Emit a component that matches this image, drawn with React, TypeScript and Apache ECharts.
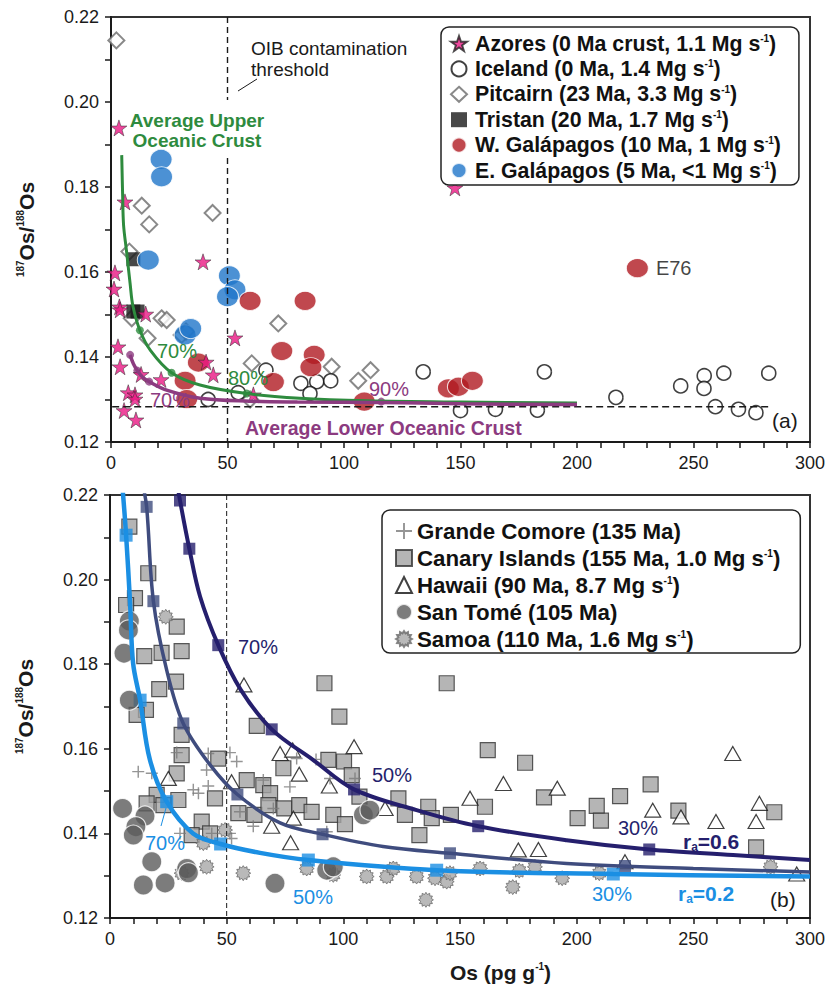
import React, { useEffect, useRef } from 'react';
import * as echarts from 'echarts';

const FONT = '"Liberation Sans", Arial, Helvetica, sans-serif';

// ---------------- Panel (a) data: [Os (pg/g), 187Os/188Os] ----------------
const azores = [[3.4,0.1939],[6,0.1765],[39.5,0.1624],[1.7,0.1598],[1.3,0.156],[3.6,0.1518],[3.9,0.1511],[14.9,0.1501],[53.2,0.1445],[3,0.1424],[3.9,0.1377],[12.9,0.1359],[21.5,0.1347],[40.8,0.1388],[43.9,0.1358],[61.1,0.1311],[7.4,0.1316],[10.3,0.1311],[10.3,0.1301],[5.6,0.1274],[10.7,0.1252],[147.6,0.1798]];
const iceland = [[41.7,0.13],[54.6,0.1316],[66.5,0.1369],[81.5,0.1338],[88.3,0.1342],[94.3,0.1344],[85.4,0.1314],[134,0.1365],[150,0.1274],[165,0.1277],[183,0.1275],[186,0.1365],[216.7,0.1305],[244.5,0.1332],[254.6,0.1356],[254.5,0.1326],[263,0.1362],[282.3,0.1362],[259.4,0.1283],[269.3,0.1277],[276.8,0.1269]];
const pitcairn = [[2.3,0.2145],[13.2,0.1756],[43.6,0.1739],[16.4,0.1712],[7.9,0.1648],[21.7,0.1491],[23.9,0.1487],[8.9,0.1491],[15.7,0.1444],[30.3,0.1452],[32.2,0.146],[71.8,0.1479],[60.4,0.1385],[94.7,0.1377],[106.1,0.1344],[111.4,0.1369],[59.7,0.13]];
const tristan = [[9.6,0.163],[9.6,0.1507],[11.4,0.1507]];
const wGalapagos = [[37.5,0.1387],[31.8,0.1344],[32.5,0.1301],[59.7,0.1532],[83.3,0.1532],[73.3,0.1414],[87.2,0.1405],[85.8,0.1376],[69.7,0.1341],[108.7,0.1295],[144.8,0.1326],[149.1,0.133],[155.1,0.1344]];
const e76 = [225.9, 0.1609];
const eGalapagos = [[31.8,0.1452],[21.5,0.1865],[21.7,0.1824],[16,0.1628],[50.8,0.1591],[53.2,0.1558],[50,0.1542],[34.2,0.1467]];
const upperCrustCurve = [[4.6,0.1875],[5.0,0.178],[5.4,0.171],[6.6,0.1652],[8.2,0.1573],[9.4,0.152],[12.4,0.1463],[17,0.1415],[26,0.1363],[38.2,0.1334],[58.2,0.1314],[81,0.1303],[110,0.1297],[150,0.1294],[200,0.1292]];
const upperCrustDots = [[12.4,0.1463],[26,0.1363],[58.2,0.1314]];
const lowerCrustCurve = [[8.2,0.1405],[9.6,0.1384],[11.3,0.1368],[13.5,0.1353],[16.4,0.1342],[23.9,0.1322],[38.2,0.1303],[59.7,0.1296],[80,0.1294],[116,0.1293],[150,0.129],[200,0.1288]];
const lowerCrustDots = [[8.2,0.1405],[11.3,0.1368],[16.4,0.1342],[116,0.1295]];
const mantleLine = [[0.5,0.1283],[283,0.1283]];
const oibUpper = [[50,0.22],[50,0.2005]];
const oibLower = [[50,0.1868],[50,0.12]];

// ---------------- Panel (b) data ----------------
const comore = [[12.1,0.1546],[17.9,0.1542],[28.6,0.1591],[35.7,0.1503],[37.9,0.1495],[42.1,0.1512],[42.1,0.1589],[41.4,0.155],[51.4,0.1591],[54.3,0.157],[65.7,0.1526],[77.1,0.151],[80,0.1577],[88.3,0.1575],[94.3,0.153],[105,0.153],[70,0.1459],[55.7,0.1451],[61.4,0.1417],[51.4,0.14],[52.1,0.1388],[92.9,0.1404],[30,0.14],[43.6,0.14]];
const canary = [[8.3,0.2125],[16.4,0.2015],[10.7,0.1956],[6.9,0.194],[28.6,0.1889],[14.7,0.1819],[22.1,0.1827],[30.7,0.1831],[28.3,0.1759],[21.1,0.1741],[91.9,0.1755],[144.3,0.1755],[15.4,0.1692],[11.4,0.168],[98.3,0.1676],[62.9,0.1654],[30.7,0.1633],[30.7,0.1585],[46.4,0.1577],[28.6,0.1542],[29.3,0.1479],[20,0.1491],[15.7,0.1471],[22.9,0.1467],[45,0.1483],[39.3,0.1428],[35,0.1396],[42.9,0.14],[58.6,0.1526],[65.7,0.1514],[68.6,0.1495],[55,0.1448],[61.9,0.1444],[67.9,0.1467],[74.3,0.1554],[74.7,0.1459],[81.1,0.1467],[86.4,0.1451],[93.6,0.1574],[100.3,0.157],[103.6,0.1538],[95.7,0.1444],[100.7,0.1422],[106.9,0.1487],[123.6,0.1483],[126.4,0.1444],[136.4,0.1463],[137.9,0.1436],[132.6,0.1396],[146.1,0.1444],[160.7,0.1463],[161.9,0.1597],[177.9,0.1567],[186,0.1485],[200.4,0.1436],[208.6,0.1465],[210.4,0.143],[218.6,0.1488],[231.7,0.1516],[243.6,0.1454],[276.9,0.1367],[284.7,0.145]];
const hawaii = [[57.4,0.1751],[72.9,0.1589],[78.3,0.1597],[104.6,0.1605],[81.1,0.154],[94,0.1512],[25,0.153],[52.1,0.1522],[69.3,0.1417],[78.6,0.1436],[77.4,0.1378],[117.9,0.1459],[154.3,0.1483],[168.6,0.1518],[191.7,0.1507],[175,0.1361],[183.6,0.1362],[232.6,0.1455],[244.7,0.1439],[259.7,0.1428],[266.9,0.1589],[278.3,0.1471],[276.9,0.1428],[220.7,0.1333],[294.3,0.1304]];
const sanTome = [[8.3,0.1902],[7.9,0.1881],[6,0.1826],[8.3,0.1715],[5.4,0.1459],[15,0.1441],[11.1,0.1416],[10,0.1396],[17.9,0.1333],[14.3,0.1278],[23.6,0.1283],[32.9,0.1317],[33.6,0.1307],[70.7,0.1282],[92.9,0.1313],[95.7,0.1321],[108.6,0.1444],[111.4,0.1455]];
const samoa = [[23.9,0.1912],[40,0.1377],[49.3,0.1408],[41.4,0.1321],[30.7,0.1306],[57.1,0.1306],[84.3,0.1317],[95.7,0.1302],[110,0.1298],[118.6,0.1298],[121.4,0.1317],[131.4,0.1298],[139.3,0.1294],[144.3,0.1286],[145.7,0.1306],[135.4,0.1243],[158.6,0.1317],[172.6,0.1273],[175.4,0.1312],[182.1,0.1321],[193.8,0.1294],[209.7,0.1306],[283.1,0.1321]];
const ra06Curve = [[28.6,0.2235],[30,0.2187],[34,0.2073],[38.6,0.196],[46.4,0.1845],[56,0.174],[69.3,0.1646],[87,0.1574],[104.6,0.1504],[131.4,0.1455],[157.8,0.1417],[195.7,0.1384],[231.1,0.1362],[267,0.1349],[300,0.1337]];
const ra06Marks = [[30,0.2187],[34,0.2073],[46.4,0.1845],[69.3,0.1646],[104.6,0.1504],[157.8,0.1417],[231.1,0.1362]];
const midCurve = [[14,0.2225],[15.7,0.2172],[18.6,0.1949],[24.3,0.1786],[31.4,0.166],[42.9,0.1562],[54.6,0.1492],[72.9,0.1425],[91.1,0.1398],[117,0.1369],[145.7,0.1353],[195.7,0.1329],[250,0.1317],[300,0.1309]];
const midMarks = [[15.7,0.2172],[18.6,0.1949],[31.4,0.166],[54.6,0.1492],[91.1,0.1398],[145.7,0.1353],[220.7,0.1323]];
const ra02Curve = [[5.4,0.2215],[6.9,0.2105],[8.6,0.1945],[9.9,0.1802],[12.9,0.1715],[17.1,0.1574],[24.3,0.1475],[35.6,0.14],[47.4,0.1375],[64.3,0.1354],[85,0.1337],[140,0.1313],[215.7,0.1304],[300,0.1298]];
const ra02Marks = [[6.9,0.2105],[12.9,0.1715],[24.3,0.1475],[47.4,0.1375],[85,0.1337],[140,0.1313],[215.7,0.1304]];
const oibB = [[50,0.22],[50,0.12]];

// ---------------- Labels ----------------
const legendA = ['Azores', 'Iceland', 'Pitcairn', 'Tristan', 'W. Galápagos', 'E. Galápagos'];
const legendB = ['Grande Comore', 'Canary Islands', 'Hawaii', 'San Tomé', 'Samoa'];
const legendText: Record<string, [string, boolean]> = {
  'Azores': ['Azores (0 Ma crust, 1.1 Mg s', true],
  'Iceland': ['Iceland (0 Ma, 1.4 Mg s', true],
  'Pitcairn': ['Pitcairn (23 Ma, 3.3 Mg s', true],
  'Tristan': ['Tristan (20 Ma, 1.7 Mg s', true],
  'W. Galápagos': ['W. Galápagos (10 Ma, 1 Mg s', true],
  'E. Galápagos': ['E. Galápagos (5 Ma, <1 Mg s', true],
  'Grande Comore': ['Grande Comore (135 Ma)', false],
  'Canary Islands': ['Canary Islands (155 Ma, 1.0 Mg s', true],
  'Hawaii': ['Hawaii (90 Ma, 8.7 Mg s', true],
  'San Tomé': ['San Tomé (105 Ma)', false],
  'Samoa': ['Samoa (110 Ma, 1.6 Mg s', true],
};
const xTicks = [0, 50, 100, 150, 200, 250, 300];
const yTicks = [0.12, 0.14, 0.16, 0.18, 0.2, 0.22];

// ---------------- Colours & symbols ----------------
const C = {
  pink: '#ea1883', red: '#b01a22', blue: '#1f76c9', green: '#2e8b3e', purple: '#8c3b80',
  navy: '#251f6d', slate: '#3f4c7e', light: '#1b8fe3',
};
const STAR = 'path://M50,2 L61.8,36.2 L97.6,36.2 L68.6,57.4 L79.4,91.6 L50,70.6 L20.6,91.6 L31.4,57.4 L2.4,36.2 L38.2,36.2 Z';
const PLUS = 'path://M4.4,0H5.6V4.4H10V5.6H5.6V10H4.4V5.6H0V4.4H4.4Z';
function gear(): string {
  const pts: string[] = [];
  for (let i = 0; i < 24; i++) {
    const a = (Math.PI * i) / 12 - Math.PI / 2;
    const r = i % 2 === 0 ? 10 : 7.3;
    pts.push(`${(10 + r * Math.cos(a)).toFixed(2)},${(10 + r * Math.sin(a)).toFixed(2)}`);
  }
  return 'path://M' + pts.join('L') + 'Z';
}
const GEAR = gear();

function scatter(name: string, data: any[], gi: number, symbol: string, size: any, itemStyle: any, extra: any = {}) {
  return { type: 'scatter', name, data, xAxisIndex: gi, yAxisIndex: gi, symbol, symbolSize: size, itemStyle, silent: true, ...extra };
}
function curve(name: string, data: any[], gi: number, color: string, width: number, dashed?: number[]) {
  return {
    type: 'line', name, data, xAxisIndex: gi, yAxisIndex: gi, symbol: 'none', smooth: dashed ? false : 0.35,
    lineStyle: { color, width, type: dashed || 'solid' }, silent: true, clip: true,
  };
}

function legendCfg(data: string[], left: number, top: number, iw: number, ih: number, gap: number, padding: number[], fs: number, tp: number) {
  return {
    data, orient: 'vertical', left, top, itemWidth: iw, itemHeight: ih, itemGap: gap, padding,
    borderColor: '#222', borderWidth: 1.5, borderRadius: 8, backgroundColor: '#fff', selectedMode: false,
    formatter: (name: string) => {
      const [t, sup] = legendText[name];
      return sup ? `{b|${t}}{s|-1}{c|)}` : `{b|${t}}`;
    },
    textStyle: {
      rich: {
        b: { fontFamily: FONT, fontWeight: 'bold', fontSize: fs, color: '#111', lineHeight: 20, padding: [0, 0, 0, tp] },
        c: { fontFamily: FONT, fontWeight: 'bold', fontSize: fs, color: '#111', lineHeight: 20 },
        s: { fontFamily: FONT, fontWeight: 'bold', fontSize: 10, color: '#111', lineHeight: 9, verticalAlign: 'top' },
      },
    },
  };
}

function axes(gi: number) {
  const x = {
    type: 'value', gridIndex: gi, min: 0, max: 300, interval: 10,
    axisLine: { show: true, onZero: false, lineStyle: { color: '#1a1a1a', width: 2 } },
    axisTick: { show: true, length: 6, lineStyle: { color: '#1a1a1a', width: 1.5 } },
    axisLabel: {
      formatter: (v: number) => (xTicks.includes(v) ? String(v) : ''),
      fontFamily: FONT, fontSize: 18, color: '#1a1a1a', margin: 12,
    },
    splitLine: { show: false },
  };
  const y = {
    type: 'value', gridIndex: gi, min: 0.12, max: 0.22, interval: 0.01,
    axisLine: { show: true, onZero: false, lineStyle: { color: '#1a1a1a', width: 2 } },
    axisTick: { show: true, length: 6, lineStyle: { color: '#1a1a1a', width: 1.5 } },
    axisLabel: {
      formatter: (v: number) => (yTicks.some((t) => Math.abs(t - v) < 1e-6) ? v.toFixed(2) : ''),
      fontFamily: FONT, fontSize: 18, color: '#1a1a1a', margin: 12,
    },
    splitLine: { show: false },
    name: '{s|187}{b|Os/}{s|188}{b|Os}', nameLocation: 'middle', nameGap: 74, nameRotate: 90,
    nameTextStyle: {
      rich: {
        b: { fontFamily: FONT, fontWeight: 'bold', fontSize: 21, color: '#1a1a1a', lineHeight: 22 },
        s: { fontFamily: FONT, fontWeight: 'bold', fontSize: 10, color: '#1a1a1a', lineHeight: 10, verticalAlign: 'top' },
      },
    },
  };
  return { x, y };
}

function txt(x: number, y: number, text: string, color: string, size: number, weight = 'normal', align = 'left', lh?: number) {
  return {
    type: 'text', x, y, z: 100,
    style: { text, fill: color, fontFamily: FONT, fontSize: size, fontWeight: weight, align, verticalAlign: 'middle', lineHeight: lh },
  };
}
function raText(x: number, y: number, val: string, color: string) {
  return {
    type: 'text', x, y, z: 100,
    style: {
      text: `{r|r}{a|a}{r|=${val}}`, fill: color, align: 'left', verticalAlign: 'middle',
      rich: {
        r: { fontFamily: FONT, fontWeight: 'bold', fontSize: 21, fill: color, lineHeight: 24 },
        a: { fontFamily: FONT, fontWeight: 'bold', fontSize: 12, fill: color, lineHeight: 12, verticalAlign: 'bottom' },
      },
    },
  };
}

export default function App() {
  const ref = useRef<HTMLDivElement>(null);
  useEffect(() => {
    if (!ref.current) return;
    const chart = echarts.init(ref.current, undefined, { renderer: 'svg' });
    const a = axes(0);
    const b = axes(1);
    const option: any = {
      animation: false,
      backgroundColor: '#fff',
      grid: [
        { left: 111, top: 17, width: 699, height: 425, show: true, borderColor: '#333', borderWidth: 2 },
        { left: 110, top: 495, width: 700, height: 423, show: true, borderColor: '#333', borderWidth: 2 },
      ],
      xAxis: [a.x, b.x],
      yAxis: [a.y, b.y],
      legend: [
        legendCfg(legendA, 441, 27, 16, 15, 4.4, [6, 18, 4, 9], 21.3, 3),
        legendCfg(legendB, 382, 510, 16, 16, 5, [10, 20, 3, 13], 22.3, 0),
      ],
      series: [
        // panel (a)
        curve('oibA1', oibUpper, 0, '#1a1a1a', 1.4, [6, 4]),
        curve('oibA2', oibLower, 0, '#1a1a1a', 1.4, [6, 4]),
        curve('mantle', mantleLine, 0, '#1a1a1a', 1.3, [7, 4]),
        scatter('Pitcairn', pitcairn, 0, 'diamond', 16, { color: '#fff', borderColor: '#6b6b6b', borderWidth: 2 }),
        scatter('Iceland', iceland, 0, 'circle', 14, { color: '#fff', borderColor: '#111', borderWidth: 1.6 }),
        curve('upperCrust', upperCrustCurve, 0, C.green, 3),
        curve('lowerCrust', lowerCrustCurve, 0, C.purple, 3.5),
        scatter('upperDots', upperCrustDots, 0, 'circle', 8, { color: C.green }),
        scatter('lowerDots', lowerCrustDots, 0, 'circle', 8, { color: C.purple }),
        scatter('Tristan', tristan, 0, 'rect', 14, { color: '#1a1a1a' }),
        scatter('E. Galápagos', eGalapagos, 0, 'circle', [22, 20], { color: C.blue, borderColor: '#fff', borderWidth: 1 }),
        scatter('W. Galápagos', [...wGalapagos, {
          value: e76,
          label: { show: true, formatter: 'E76', position: 'right', distance: 7, fontFamily: FONT, fontSize: 20, color: '#111' },
        }], 0, 'circle', [22, 19], { color: C.red, borderColor: '#fff', borderWidth: 1 }),
        scatter('Azores', azores, 0, STAR, 16, { color: C.pink, borderColor: '#222', borderWidth: 0.6 }),
        // panel (b)
        curve('oibB', oibB, 1, '#1a1a1a', 1, [5, 3]),
        scatter('Canary Islands', canary, 1, 'rect', 15, { color: '#a2a2a2', borderColor: '#333', borderWidth: 1.2 }),
        scatter('Hawaii', hawaii, 1, 'triangle', [16, 14], { color: '#fff', borderColor: '#111', borderWidth: 1.2 }),
        scatter('Grande Comore', comore, 1, PLUS, 12, { color: '#7a7a7a' }),
        scatter('Samoa', samoa, 1, GEAR, 15, { color: '#a8a8a8', borderColor: '#6a6a6a', borderWidth: 1 }),
        curve('ra06', ra06Curve, 1, C.navy, 4),
        curve('mid', midCurve, 1, C.slate, 3.5),
        curve('ra02', ra02Curve, 1, C.light, 4.5),
        scatter('ra06Marks', ra06Marks, 1, 'rect', 12, { color: C.navy }),
        scatter('midMarks', midMarks, 1, 'rect', 12, { color: C.slate }),
        scatter('ra02Marks', ra02Marks, 1, 'rect', 13, { color: C.light }),
        scatter('San Tomé', sanTome, 1, 'circle', 20, { color: '#5b5b5b', borderColor: '#fff', borderWidth: 1.2 }),
      ],
      graphic: [
        txt(251, 59, 'OIB contamination\nthreshold', '#1a1a1a', 19, 'normal', 'left', 21),
        { type: 'line', z: 100, shape: { x1: 238, y1: 91, x2: 257, y2: 79 }, style: { stroke: '#1a1a1a', lineWidth: 1 } },
        txt(197, 130, 'Average Upper\nOceanic Crust', C.green, 19, 'bold', 'center', 20),
        txt(157, 351, '70%', C.green, 20),
        txt(228, 378, '80%', C.green, 20),
        txt(150, 400, '70%', C.purple, 20),
        txt(369, 389, '90%', C.purple, 20),
        txt(245, 428, 'Average Lower Oceanic Crust', C.purple, 19.5, 'bold'),
        txt(772, 420, '(a)', '#1a1a1a', 21),
        txt(238, 647, '70%', C.navy, 20),
        txt(372, 775, '50%', C.navy, 20),
        txt(618, 828, '30%', C.navy, 20),
        raText(683, 841, '0.6', C.navy),
        txt(145, 843, '70%', C.light, 20),
        { type: 'line', z: 100, shape: { x1: 166, y1: 808, x2: 161, y2: 826 }, style: { stroke: C.light, lineWidth: 1 } },
        txt(293, 897, '50%', C.light, 20),
        txt(592, 894, '30%', C.light, 20),
        raText(678, 893, '0.2', C.light),
        txt(770, 899, '(b)', '#1a1a1a', 21),
        {
          type: 'text', x: 450, y: 972, z: 100,
          style: {
            text: '{b|Os (pg g}{s|-1}{b|)}', align: 'left', verticalAlign: 'middle',
            rich: {
              b: { fontFamily: FONT, fontWeight: 'bold', fontSize: 21, fill: '#1a1a1a', lineHeight: 22 },
              s: { fontFamily: FONT, fontWeight: 'bold', fontSize: 10, fill: '#1a1a1a', lineHeight: 10, verticalAlign: 'top' },
            },
          },
        },
      ],
    };
    chart.setOption(option);
    return () => chart.dispose();
  }, []);
  return <div ref={ref} style={{ position: 'absolute', left: 0, top: 0, width: 833, height: 986 }} />;
}
